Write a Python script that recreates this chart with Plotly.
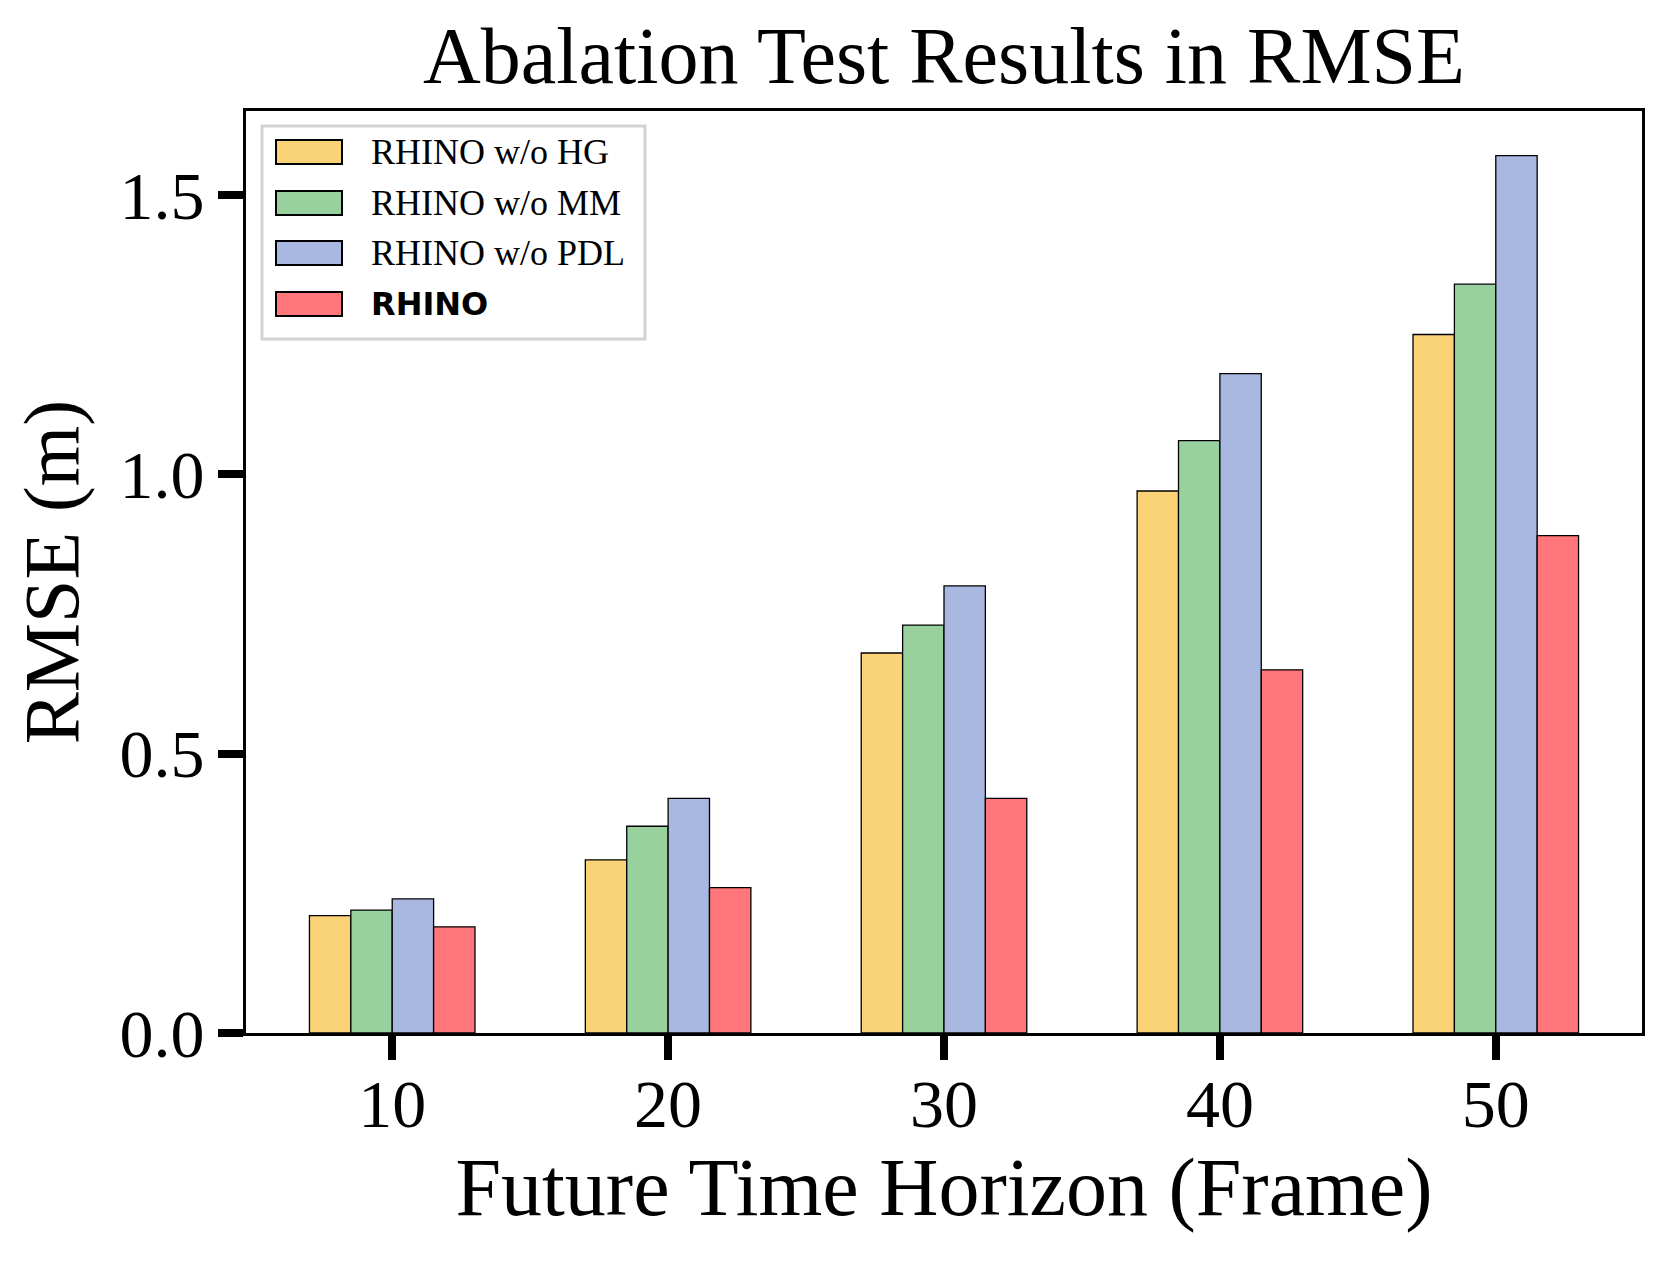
import plotly.graph_objects as go

horizons = [10, 20, 30, 40, 50]
series_names = ["RHINO w/o HG", "RHINO w/o MM", "RHINO w/o PDL", "RHINO"]
rmse_wo_hg = [0.21, 0.31, 0.68, 0.97, 1.25]
rmse_wo_mm = [0.22, 0.37, 0.73, 1.06, 1.34]
rmse_wo_pdl = [0.24, 0.42, 0.80, 1.18, 1.57]
rmse_rhino = [0.19, 0.26, 0.42, 0.65, 0.89]
colors = ["#FBD377", "#98D19E", "#A8B8E0", "#FF777A"]
y_ticks = [0.0, 0.5, 1.0, 1.5]

# page body has an 8px margin; figure coordinates below are page coords - 8
OFF = 8
W, H = 1654, 1248
L, R, T, B = 246 - OFF, 1642 - OFF, 111 - OFF, 1033 - OFF

serif = "Liberation Serif"
all_series = [rmse_wo_hg, rmse_wo_mm, rmse_wo_pdl, rmse_rhino]

fig = go.Figure()
for name, vals, col in zip(series_names, all_series, colors):
    fig.add_trace(go.Bar(
        x=horizons, y=vals, name=name,
        marker=dict(color=col, line=dict(color="black", width=1.3)),
        showlegend=False,
    ))

# custom legend (positions given in page pixels, converted to paper coords)
def px_x(p):
    return (p - OFF - L) / (R - L)

def px_y(p):
    return (B - (p - OFF)) / (B - T)

shapes = []
annotations = []
shapes.append(dict(type="rect", xref="paper", yref="paper",
                   x0=px_x(262), x1=px_x(645), y0=px_y(339), y1=px_y(126),
                   line=dict(color="#D3D3D3", width=3), fillcolor="rgba(255,255,255,0.85)",
                   layer="above"))
row_y = [152, 203, 253, 304]
for i, (name, col) in enumerate(zip(series_names, colors)):
    cy = row_y[i]
    shapes.append(dict(type="rect", xref="paper", yref="paper",
                       x0=px_x(276), x1=px_x(342), y0=px_y(cy + 12), y1=px_y(cy - 12),
                       line=dict(color="black", width=2), fillcolor=col, layer="above"))
    bold = (name == "RHINO")
    annotations.append(dict(
        xref="paper", yref="paper", x=px_x(369), y=px_y(cy), xanchor="left", yanchor="middle",
        text=("<b>%s</b>" % name) if bold else name, showarrow=False,
        font=dict(family="DejaVu Sans" if bold else serif, size=32 if bold else 36, color="black"),
    ))

fig.update_layout(
    width=W, height=H, autosize=False,
    margin=dict(l=L, r=W - R, t=T, b=H - B, pad=0),
    paper_bgcolor="white", plot_bgcolor="white",
    barmode="group", bargap=0.4, bargroupgap=0,
    font=dict(family=serif, color="black"),
    title=dict(text="Abalation Test Results in RMSE", x=(L + R) / 2 / W, xanchor="center",
               y=1 - 75 / H, yref="container", yanchor="bottom",
               font=dict(family=serif, size=80, color="black")),
    shapes=shapes, annotations=annotations,
    showlegend=False,
)
fig.update_xaxes(
    range=[4.7, 55.3], tickvals=horizons, ticktext=[str(h) for h in horizons],
    ticks="outside", ticklen=24, tickwidth=8, tickcolor="black",
    showline=True, linecolor="black", linewidth=3, mirror=True,
    showgrid=False, zeroline=False, ticklabelstandoff=-15,
    tickfont=dict(family=serif, size=68, color="black"),
    title=dict(text="Future Time Horizon (Frame)", font=dict(family=serif, size=82, color="black"), standoff=12),
)
fig.update_yaxes(
    range=[0, 1.65], tickvals=y_ticks, ticktext=["%.1f" % v for v in y_ticks],
    ticks="outside", ticklen=25, tickwidth=8, tickcolor="black",
    showline=True, linecolor="black", linewidth=3, mirror=True,
    showgrid=False, zeroline=False,
    tickfont=dict(family=serif, size=68, color="black"),
    title=dict(text="RMSE (m)", font=dict(family=serif, size=78, color="black"), standoff=23),
)

fig.write_html("out.html")
